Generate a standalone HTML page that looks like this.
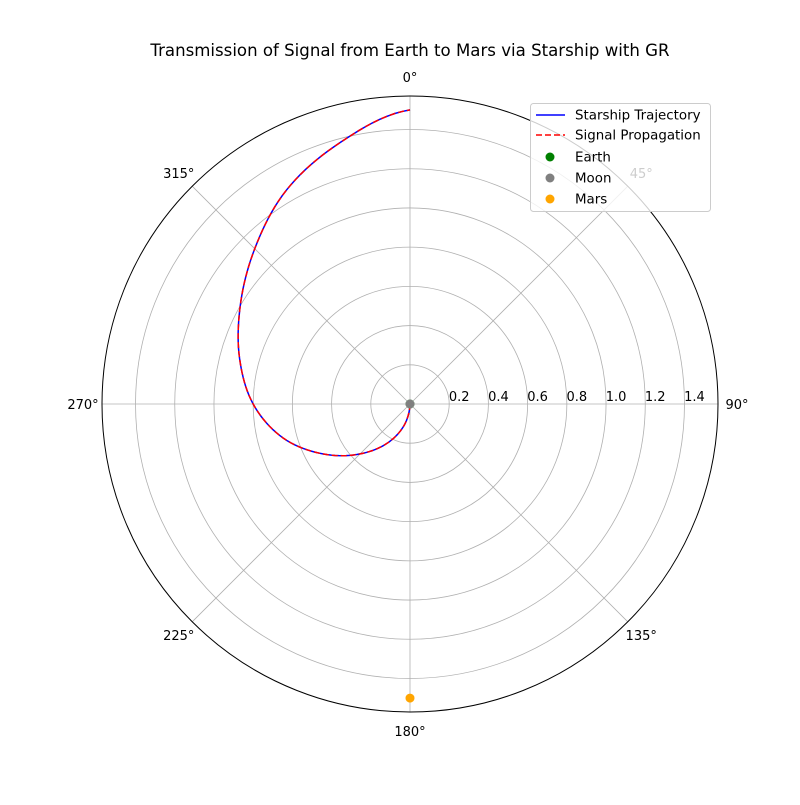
<!DOCTYPE html>
<html><head><meta charset="utf-8"><style>
body{margin:0;background:#fff}
svg text{font-family:"DejaVu Sans","Liberation Sans",sans-serif;fill:#000}
</style></head><body>
<svg id="chart" width="800" height="800" viewBox="0 0 800 800">
<rect width="800" height="800" fill="#fff"/>
<text x="410" y="56" text-anchor="middle" font-size="16.6">Transmission of Signal from Earth to Mars via Starship with GR</text>
<g id="grid"></g>
<g id="series"></g>
<g id="legend">
<rect x="530.5" y="103.5" width="180" height="108" rx="3" fill="#fff" fill-opacity="0.8" stroke="#ccc"/>
<line x1="536" y1="115" x2="565" y2="115" stroke="blue" stroke-width="1.5"/>
<text x="575" y="119.5" font-size="13.4">Starship Trajectory</text>
<line x1="536" y1="135" x2="565" y2="135" stroke="red" stroke-width="1.5" stroke-dasharray="6,3"/>
<text x="575" y="139.5" font-size="13.4">Signal Propagation</text>
<circle cx="550" cy="157" r="4.5" fill="green"/>
<text x="575" y="161.5" font-size="13.4">Earth</text>
<circle cx="550" cy="178" r="4.5" fill="gray"/>
<text x="575" y="182.5" font-size="13.4">Moon</text>
<circle cx="550" cy="199" r="4.5" fill="orange"/>
<text x="575" y="203.5" font-size="13.4">Mars</text>
</g>
</svg>
<script>
const thetaDeg=[180,195,210,225,240,255,270,285,300,315,330,345,360];
const radiusVals=[0,0.11,0.23,0.36,0.51,0.67,0.80,0.90,1.00,1.12,1.26,1.38,1.5];
const rTicks=[0.2,0.4,0.6,0.8,1.0,1.2,1.4];
const rTickLabels=["0.2","0.4","0.6","0.8","1.0","1.2","1.4"];
const angleTicks=[0,45,90,135,180,225,270,315];
const bodyNames=["earth","moon","mars"];
const bodyTheta=[0,0,180];
const bodyR=[0,0,1.5];
const bodyColors=["green","gray","orange"];

const NS="http://www.w3.org/2000/svg";
const cx=410,cy=404,R=308,rMax=1.571;
function rScale(r){return r/rMax*R;}
function pt(deg,r){const a=deg*Math.PI/180,p=rScale(r);return [cx+p*Math.sin(a),cy-p*Math.cos(a)];}
function mk(tag,attrs,parent){const e=document.createElementNS(NS,tag);for(const k in attrs)e.setAttribute(k,attrs[k]);parent.appendChild(e);return e;}
const grid=document.getElementById('grid'),series=document.getElementById('series');
rTicks.forEach((r,i)=>{
 const c=mk('circle',{cx:cx,cy:cy,r:rScale(r),fill:'none',stroke:'#b0b0b0','stroke-width':0.8},grid);
 
 
 const t=mk('text',{x:cx+rScale(r)+10,y:cy-3,'font-size':13,'text-anchor':'middle'},grid);
 t.textContent=rTickLabels[i];
 
 
});
angleTicks.forEach(d=>{
 const [x,y]=pt(d,rMax);
 const l=mk('line',{x1:cx,y1:cy,x2:x,y2:y,stroke:'#b0b0b0','stroke-width':0.8},grid);
 
 
 const a=d*Math.PI/180;
 const t=mk('text',{x:cx+327*Math.sin(a),y:cy-327*Math.cos(a)+5,'font-size':13,'text-anchor':'middle'},grid);
 t.textContent=d+'°';
 
 
});
const outer=mk('circle',{cx:cx,cy:cy,r:R,fill:'none',stroke:'#000','stroke-width':1},grid);


const pts=[];
for(let i=0;i<thetaDeg.length-1;i++){
 const r0=radiusVals[Math.max(0,i-1)],r1=radiusVals[i],r2=radiusVals[i+1],r3=radiusVals[Math.min(radiusVals.length-1,i+2)];
 for(let s=0;s<10;s++){
  const u=s/10;
  const r=0.5*((2*r1)+(-r0+r2)*u+(2*r0-5*r1+4*r2-r3)*u*u+(-r0+3*r1-3*r2+r3)*u*u*u);
  pts.push(pt(thetaDeg[i]+(thetaDeg[i+1]-thetaDeg[i])*u,Math.max(0,r)));
 }
}
pts.push(pt(thetaDeg[thetaDeg.length-1],radiusVals[radiusVals.length-1]));
const dstr='M'+pts.map(p=>p[0].toFixed(2)+','+p[1].toFixed(2)).join(' L');
const traj=mk('path',{d:dstr,fill:'none',stroke:'blue','stroke-width':1.5},series);


const sig=mk('path',{d:dstr,fill:'none',stroke:'red','stroke-width':1.5,'stroke-dasharray':'6,3'},series);


bodyNames.forEach((n,i)=>{
 const [x,y]=pt(bodyTheta[i],bodyR[i]);
 const c=mk('circle',{cx:x,cy:y,r:4.5,fill:bodyColors[i]},series);
 
 
});
</script>
</body></html>
